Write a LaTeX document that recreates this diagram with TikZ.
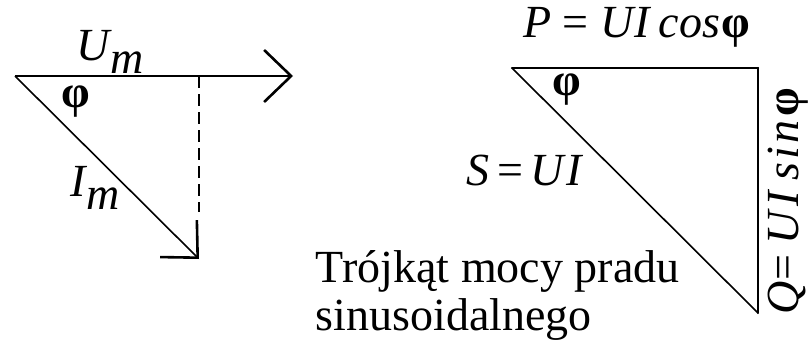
\documentclass[tikz,border=0pt]{standalone}
\usepackage{fontspec}
\setmainfont{Liberation Serif}
\usetikzlibrary{arrows.meta}

\newcommand{\lowsub}[1]{\raisebox{-0.28em}{#1}}
\newcommand{\phib}{\textbf{\textup{φ}}}

\begin{document}
\begin{tikzpicture}[x=1pt, y=-1pt, line width=1.6pt,
    vec/.style={-{Straight Barb[length=27pt, width=52pt, line width=2.6pt]}},
    side/.style={line width=2.2pt, line cap=round},
    lbl/.style={font=\fontsize{46}{50}\selectfont, inner sep=0pt}]
        \useasboundingbox (0,0) rectangle (812,340);

        % Define nodes
        \coordinate (o)  at (15,76);
        \coordinate (um) at (293,76);
        \coordinate (im) at (199,259);
        \coordinate (ip) at (199,76);
        \coordinate (ie) at (199,212);
        \coordinate (a)  at (512,68);
        \coordinate (b)  at (758,68);
        \coordinate (c)  at (758,313);

        \node[lbl] (lUm)   at (110,52)  {\textit{U\lowsub{m}}};
        \node[lbl] (lphi1) at (76,102)  {\phib};
        \node[lbl] (lIm)   at (95,188)  {\textit{I\lowsub{m}}};
        \node[lbl] (lP)    at (637,27)  {\textit{P} = \textit{U\kern1pt I}\kern7pt\textit{cos}\kern2pt\phib};
        \node[lbl] (lphi2) at (567,90)  {\phib};
        \node[lbl] (lS)    at (525,170) {\textit{S}\,=\,\textit{U\kern2pt I}};
        \node[lbl, rotate=90] (lQ) at (788,201)
            {\textit{Q}=\kern10pt\textit{U\kern5pt I\kern11pt s\kern3pt i\kern3pt n}\kern4pt\phib};
        \node[lbl, anchor=base west] (cap1) at (315,282) {Trójkąt mocy pradu};
        \node[lbl, anchor=base west] (cap2) at (315,330) {sinusoidalnego};

        % Draw edges
        \draw[vec] (o) -- (um);
        \draw[dashed, dash pattern=on 12pt off 6pt, line width=1.3pt] (ip) -- (ie);
        \draw[vec] (o) -- (im);
        \draw[side] (a) -- (b);
        \draw[side] (b) -- (c);
        \draw (c) -- (a);
    \end{tikzpicture}
\end{document}
